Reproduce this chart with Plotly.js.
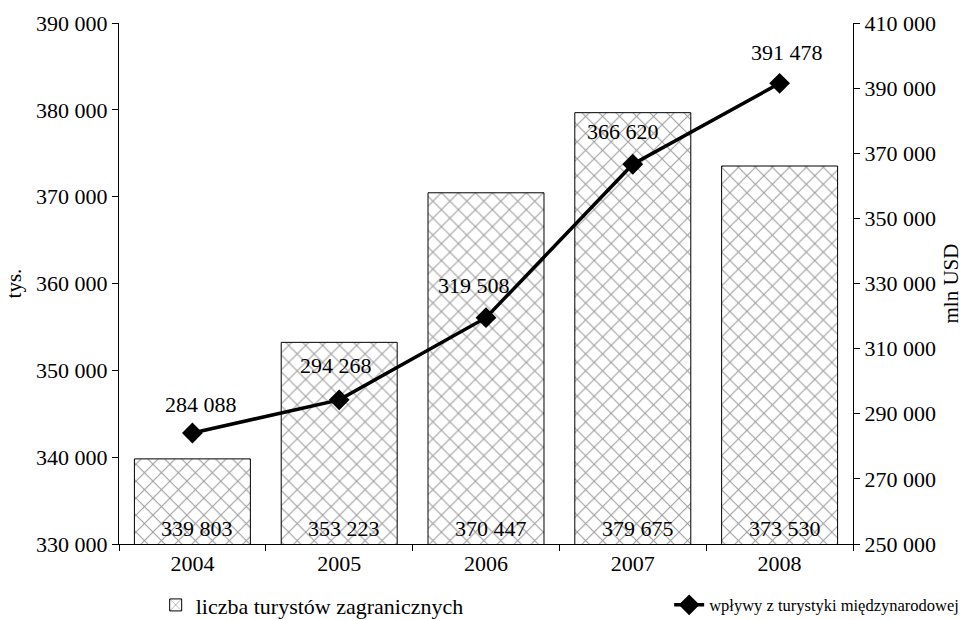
<!DOCTYPE html>
<html><head><meta charset="utf-8">
<script src="https://cdn.plot.ly/plotly-3.0.1.min.js"></script>
<style>html,body{margin:0;padding:0;background:#fff}#c{width:967px;height:620px}</style>
</head><body><div id="c"></div>
<script>
var years = ['2004','2005','2006','2007','2008'];
var tourists = [339803, 353223, 370447, 379675, 373530];
var receipts = [284088, 294268, 319508, 366620, 391478];
var seriesNames = ['liczba turystów zagranicznych', 'wpływy z turystyki międzynarodowej'];
var labelYShift = [14, 20, 18, 18, 16];
var labelXShift = [9, -3, -12, -10, 7];

var F = 'Liberation Serif';
var FS = 22;

function fmt(v){ return String(v).replace(/(\d)(?=(\d{3})+$)/g,'$1 '); }

var traces = [
  {type:'bar', x:years, y:tourists, name:seriesNames[0], legend:'legend',
   marker:{color:'#fff', line:{color:'#000', width:1},
     pattern:{shape:'x', fgcolor:'#9a9a9a', bgcolor:'#fff', size:12, solidity:0.16}},
   hoverinfo:'none'},
  {type:'scatter', mode:'lines+markers', x:years, y:receipts, yaxis:'y2', legend:'legend2',
   name:seriesNames[1], cliponaxis:false,
   line:{color:'#000', width:3.5}, marker:{symbol:'diamond', size:16, color:'#000'}, hoverinfo:'none'}
];

var ann = years.map(function(yr,i){
  return {x:i, y:receipts[i], xref:'x', yref:'y2', text:fmt(receipts[i]), showarrow:false,
    yanchor:'bottom', xanchor:'center', yshift:labelYShift[i], xshift:labelXShift[i],
    font:{family:F, size:FS, color:'#000'}};
});
years.forEach(function(yr,i){
  ann.push({x:i, y:0, xref:'x', yref:'y domain', text:fmt(tourists[i]), showarrow:false,
    yanchor:'bottom', xanchor:'center', yshift:1, xshift:5,
    font:{family:F, size:FS, color:'#000'}});
});

var axisCommon = {showline:true, linecolor:'#000', linewidth:1, ticks:'outside', ticklen:6,
  tickcolor:'#000', showgrid:false, zeroline:false, tickfont:{family:F, size:FS, color:'#000'}};

var layout = {
  width:967, height:620,
  margin:{l:119, r:114, t:23, b:76},
  paper_bgcolor:'#fff', plot_bgcolor:'#fff',
  separators:', ',
  font:{family:F, size:FS, color:'#000'},
  bargap:0.21,
  showlegend:true,
  legend:{orientation:'h', xref:'container', yref:'container', x:0.161, xanchor:'left',
    y:0.024, yanchor:'middle', font:{family:F, size:FS}, bgcolor:'rgba(0,0,0,0)'},
  legend2:{orientation:'h', xref:'container', yref:'container', x:0.692, xanchor:'left',
    y:0.024, yanchor:'middle', font:{family:F, size:16.5}, bgcolor:'rgba(0,0,0,0)'},
  xaxis:Object.assign({type:'category', range:[-0.5,4.5], tickson:'boundaries'}, axisCommon),
  yaxis:Object.assign({range:[330000,390000], dtick:10000, tickformat:',d',
    title:{text:'tys.', font:{family:F, size:FS-1}, standoff:8}}, axisCommon),
  yaxis2:Object.assign({range:[250000,410000], tick0:250000, dtick:20000, tickformat:',d',
    overlaying:'y', side:'right',
    title:{text:'mln USD', font:{family:F, size:FS-1}, standoff:8}}, axisCommon),
  annotations:ann
};
Plotly.newPlot('c', traces, layout, {displayModeBar:false, staticPlot:true});
</script></body></html>
